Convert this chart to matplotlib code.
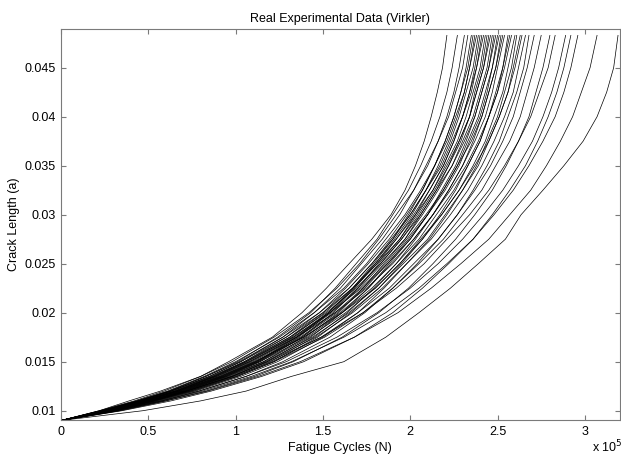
import matplotlib
matplotlib.use("Agg")
import matplotlib.pyplot as plt

plt.rcParams['font.family'] = ['Liberation Sans', 'DejaVu Sans']

# crack length levels (m), shared by all specimens
crack_levels = [0.009, 0.010, 0.011, 0.012, 0.0135, 0.015, 0.0175, 0.020, 0.0225,
                0.025, 0.0275, 0.030, 0.0325, 0.035, 0.0375, 0.040, 0.0425, 0.045,
                0.0483]

# cycles (x 10^5) at which each specimen reached the levels above
v01 = [0, 0.22, 0.39, 0.57, 0.80, 0.96, 1.21, 1.38, 1.52, 1.65, 1.78, 1.89, 1.97, 2.03, 2.08, 2.12, 2.155, 2.185, 2.21]
v02 = [0, 0.24, 0.44, 0.62, 0.83, 1.01, 1.24, 1.43, 1.57, 1.69, 1.81, 1.90, 1.99, 2.06, 2.12, 2.17, 2.21, 2.24, 2.27]
v03 = [0, 0.25, 0.45, 0.63, 0.85, 1.03, 1.27, 1.45, 1.60, 1.72, 1.84, 1.94, 2.02, 2.10, 2.16, 2.21, 2.25, 2.28, 2.31]
v04 = [0, 0.22, 0.42, 0.59, 0.80, 0.98, 1.22, 1.42, 1.58, 1.71, 1.82, 1.92, 2.02, 2.09, 2.16, 2.22, 2.26, 2.30, 2.33]
v05 = [0, 0.28, 0.51, 0.69, 0.93, 1.12, 1.35, 1.53, 1.67, 1.79, 1.90, 1.99, 2.07, 2.14, 2.20, 2.25, 2.29, 2.32, 2.35]
v06 = [0, 0.25, 0.46, 0.64, 0.87, 1.05, 1.29, 1.48, 1.63, 1.76, 1.88, 1.98, 2.07, 2.14, 2.20, 2.25, 2.29, 2.33, 2.36]
v07 = [0, 0.28, 0.51, 0.70, 0.94, 1.13, 1.36, 1.54, 1.68, 1.80, 1.91, 2.01, 2.09, 2.16, 2.22, 2.27, 2.31, 2.34, 2.37]
v08 = [0, 0.23, 0.43, 0.61, 0.82, 1.00, 1.25, 1.45, 1.62, 1.75, 1.86, 1.97, 2.06, 2.14, 2.21, 2.26, 2.31, 2.34, 2.38]
v09 = [0, 0.26, 0.47, 0.65, 0.88, 1.06, 1.31, 1.50, 1.65, 1.78, 1.90, 2.00, 2.09, 2.17, 2.23, 2.28, 2.32, 2.36, 2.39]
v10 = [0, 0.29, 0.52, 0.71, 0.95, 1.14, 1.38, 1.56, 1.70, 1.82, 1.94, 2.03, 2.11, 2.19, 2.25, 2.30, 2.34, 2.37, 2.40]
v11 = [0, 0.26, 0.47, 0.66, 0.88, 1.07, 1.32, 1.51, 1.67, 1.80, 1.92, 2.02, 2.11, 2.19, 2.25, 2.30, 2.34, 2.38, 2.41]
v12 = [0, 0.23, 0.44, 0.62, 0.83, 1.02, 1.27, 1.48, 1.65, 1.78, 1.89, 2.00, 2.09, 2.18, 2.24, 2.30, 2.35, 2.38, 2.42]
v13 = [0, 0.26, 0.48, 0.66, 0.89, 1.08, 1.33, 1.53, 1.68, 1.81, 1.94, 2.04, 2.13, 2.20, 2.27, 2.32, 2.36, 2.40, 2.43]
v14 = [0, 0.29, 0.52, 0.72, 0.96, 1.16, 1.40, 1.59, 1.73, 1.85, 1.97, 2.06, 2.15, 2.22, 2.28, 2.34, 2.37, 2.41, 2.44]
v15 = [0, 0.26, 0.48, 0.67, 0.90, 1.09, 1.34, 1.54, 1.70, 1.83, 1.95, 2.05, 2.14, 2.22, 2.29, 2.34, 2.38, 2.42, 2.45]
v16 = [0, 0.23, 0.44, 0.63, 0.85, 1.03, 1.29, 1.50, 1.67, 1.81, 1.92, 2.03, 2.13, 2.21, 2.28, 2.34, 2.38, 2.42, 2.46]
v17 = [0, 0.26, 0.48, 0.67, 0.91, 1.10, 1.35, 1.55, 1.71, 1.84, 1.97, 2.07, 2.16, 2.24, 2.30, 2.36, 2.40, 2.44, 2.47]
v18 = [0, 0.30, 0.53, 0.73, 0.98, 1.18, 1.43, 1.61, 1.76, 1.88, 2.00, 2.10, 2.18, 2.26, 2.32, 2.37, 2.41, 2.45, 2.48]
v19 = [0, 0.24, 0.45, 0.63, 0.86, 1.05, 1.31, 1.52, 1.69, 1.83, 1.95, 2.06, 2.15, 2.24, 2.31, 2.37, 2.41, 2.45, 2.49]
v20 = [0, 0.27, 0.49, 0.68, 0.92, 1.11, 1.37, 1.57, 1.73, 1.87, 1.99, 2.10, 2.19, 2.27, 2.33, 2.39, 2.43, 2.47, 2.50]
v21 = [0, 0.27, 0.49, 0.68, 0.92, 1.12, 1.38, 1.58, 1.74, 1.87, 2.00, 2.10, 2.20, 2.28, 2.34, 2.40, 2.44, 2.47, 2.51]
v22 = [0, 0.30, 0.54, 0.74, 1.00, 1.20, 1.45, 1.64, 1.79, 1.92, 2.03, 2.13, 2.22, 2.30, 2.36, 2.41, 2.45, 2.49, 2.52]
v23 = [0, 0.24, 0.46, 0.65, 0.87, 1.06, 1.33, 1.54, 1.72, 1.86, 1.98, 2.09, 2.19, 2.27, 2.35, 2.41, 2.45, 2.49, 2.53]
v24 = [0, 0.27, 0.50, 0.69, 0.93, 1.13, 1.39, 1.60, 1.76, 1.89, 2.02, 2.13, 2.22, 2.30, 2.37, 2.43, 2.47, 2.50, 2.54]
v25 = [0, 0.31, 0.55, 0.76, 1.01, 1.22, 1.47, 1.66, 1.82, 1.95, 2.07, 2.17, 2.26, 2.33, 2.40, 2.45, 2.49, 2.53, 2.56]
v26 = [0, 0.28, 0.50, 0.70, 0.94, 1.14, 1.41, 1.61, 1.78, 1.92, 2.05, 2.15, 2.25, 2.33, 2.40, 2.45, 2.50, 2.53, 2.57]
v27 = [0, 0.25, 0.46, 0.66, 0.89, 1.08, 1.35, 1.57, 1.75, 1.90, 2.02, 2.13, 2.23, 2.32, 2.39, 2.45, 2.50, 2.54, 2.58]
v28 = [0, 0.28, 0.51, 0.71, 0.95, 1.16, 1.42, 1.63, 1.80, 1.94, 2.07, 2.18, 2.28, 2.36, 2.43, 2.48, 2.53, 2.56, 2.60]
v29 = [0, 0.31, 0.56, 0.77, 1.03, 1.24, 1.50, 1.70, 1.85, 1.98, 2.11, 2.21, 2.30, 2.38, 2.44, 2.50, 2.54, 2.58, 2.61]
v30 = [0, 0.28, 0.52, 0.72, 0.97, 1.17, 1.44, 1.65, 1.82, 1.96, 2.10, 2.20, 2.30, 2.39, 2.45, 2.51, 2.56, 2.59, 2.63]
v31 = [0, 0.25, 0.48, 0.67, 0.91, 1.11, 1.39, 1.61, 1.80, 1.94, 2.06, 2.18, 2.28, 2.37, 2.45, 2.51, 2.56, 2.60, 2.64]
v32 = [0, 0.28, 0.52, 0.72, 0.98, 1.18, 1.46, 1.67, 1.84, 1.98, 2.12, 2.23, 2.33, 2.41, 2.48, 2.54, 2.59, 2.62, 2.66]
v33 = [0, 0.32, 0.58, 0.79, 1.06, 1.27, 1.54, 1.74, 1.90, 2.04, 2.16, 2.27, 2.36, 2.44, 2.51, 2.56, 2.61, 2.65, 2.68]
v34 = [0, 0.29, 0.53, 0.74, 0.99, 1.21, 1.49, 1.70, 1.88, 2.02, 2.16, 2.27, 2.37, 2.46, 2.53, 2.59, 2.63, 2.67, 2.71]
v35 = [0, 0.29, 0.54, 0.75, 1.01, 1.22, 1.51, 1.73, 1.90, 2.05, 2.19, 2.30, 2.41, 2.49, 2.57, 2.63, 2.67, 2.71, 2.75]
v36 = [0, 0.34, 0.60, 0.83, 1.11, 1.33, 1.61, 1.82, 1.99, 2.13, 2.26, 2.37, 2.47, 2.55, 2.62, 2.68, 2.72, 2.76, 2.80]
v37 = [0, 0.27, 0.51, 0.72, 0.98, 1.19, 1.49, 1.73, 1.92, 2.08, 2.21, 2.34, 2.45, 2.54, 2.62, 2.69, 2.74, 2.79, 2.83]
v38 = [0, 0.31, 0.57, 0.79, 1.06, 1.29, 1.58, 1.81, 2.00, 2.16, 2.30, 2.42, 2.53, 2.62, 2.70, 2.76, 2.81, 2.85, 2.89]
v39 = [0, 0.35, 0.63, 0.86, 1.15, 1.39, 1.68, 1.90, 2.07, 2.22, 2.36, 2.47, 2.57, 2.66, 2.73, 2.79, 2.84, 2.88, 2.92]
v40 = [0, 0.32, 0.58, 0.81, 1.09, 1.32, 1.62, 1.86, 2.05, 2.21, 2.36, 2.48, 2.59, 2.68, 2.76, 2.83, 2.88, 2.92, 2.96]
v41 = [0, 0.33, 0.60, 0.84, 1.13, 1.37, 1.68, 1.93, 2.12, 2.29, 2.45, 2.57, 2.69, 2.78, 2.86, 2.93, 2.98, 3.03, 3.07]
v42 = [0, 0.47, 0.80, 1.06, 1.32, 1.62, 1.86, 2.05, 2.23, 2.39, 2.545, 2.635, 2.76, 2.88, 2.99, 3.07, 3.125, 3.165, 3.19]

specimens = [v01, v02, v03, v04, v05, v06, v07, v08, v09, v10, v11, v12, v13, v14,
             v15, v16, v17, v18, v19, v20, v21, v22, v23, v24, v25, v26, v27, v28,
             v29, v30, v31, v32, v33, v34, v35, v36, v37, v38, v39, v40, v41, v42]

x_ticks = [0, 0.5, 1, 1.5, 2, 2.5, 3]
x_tick_labels = ['0', '0.5', '1', '1.5', '2', '2.5', '3']
y_ticks = [0.01, 0.015, 0.02, 0.025, 0.03, 0.035, 0.04, 0.045]
y_tick_labels = ['0.01', '0.015', '0.02', '0.025', '0.03', '0.035', '0.04', '0.045']

fig = plt.figure(figsize=(6.21, 4.57), dpi=100)
ax = fig.add_axes([0.0982, 0.0799, 0.8998, 0.8577])

for cycles in specimens:
    ax.plot(cycles, crack_levels, color='black', linewidth=0.5)

ax.set_xlim(0, 3.2)
ax.set_ylim(0.009, 0.049)
ax.set_xticks(x_ticks)
ax.set_xticklabels(x_tick_labels)
ax.set_yticks(y_ticks)
ax.set_yticklabels(y_tick_labels)

gray = '#7a7a7a'
for s in ax.spines.values():
    s.set_color(gray)
    s.set_linewidth(0.8)
ax.tick_params(direction='in', length=3.6, width=0.8, color=gray,
               top=True, right=True, labelsize=9, pad=4, labelcolor='black')

ax.set_title('Real Experimental Data (Virkler)', fontsize=9, pad=5)
ax.set_xlabel('Fatigue Cycles (N)', fontsize=9, labelpad=3)
ax.set_ylabel('Crack Length (a)', fontsize=9, labelpad=3)
fig.text(0.953, 0.003, r'x 10$^5$', fontsize=9, ha='left', va='bottom')

fig.savefig('out.png', dpi=100)
